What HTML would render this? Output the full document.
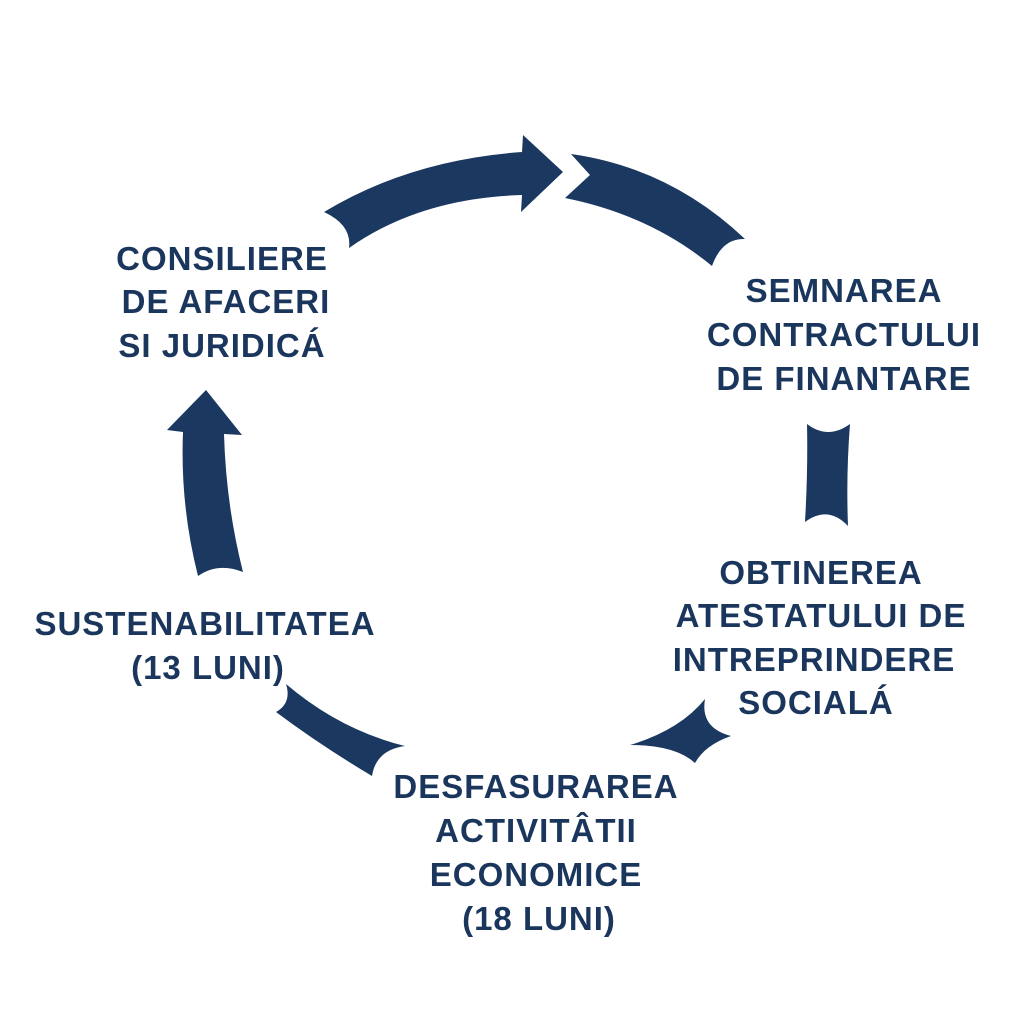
<!DOCTYPE html>
<html><head><meta charset="utf-8"><style>
html,body{margin:0;padding:0;background:#fff;}
svg{display:block}
text{font-family:"Liberation Sans",sans-serif;font-weight:bold;fill:#1b365d;font-size:33px;letter-spacing:1px;text-anchor:middle}
</style></head><body>
<svg width="1024" height="1024" viewBox="0 0 1024 1024">
<g fill="#1a3860">
<path d="M324,212 Q410,160 522,152 L523,135 L563,172 L521,212 L522,195 Q420,198 349,248 Q352,225 324,212 Z"/>
<path d="M571,154 Q670,168 745,239 Q722,238 712,266 Q650,215 565,198 L590,175 Z"/>
<path d="M807,424 Q828,440 850,424 Q846,475 848,526 Q828,505 805,522 Q808,470 807,424 Z"/>
<path d="M705,699 Q700,728 731,736 Q705,745 695,763 Q675,745 630,745 Q680,730 705,699 Z"/>
<path d="M286,684 Q340,730 405,746 Q376,750 372,776 Q320,745 276,712 Q292,703 286,684 Z"/>
<path d="M206,390 L242,435 L224,434 Q226,505 243,572 Q218,562 198,576 Q180,505 183,432 L167,430 Z"/>
</g>
<text x="222" y="270">CONSILIERE</text>
<text x="226" y="313">DE AFACERI</text>
<text x="222" y="357">SI JURIDICÁ</text>
<text x="844" y="302">SEMNAREA</text>
<text x="844" y="346">CONTRACTULUI</text>
<text x="844" y="390">DE FINANTARE</text>
<text x="821" y="584">OBTINEREA</text>
<text x="821" y="627">ATESTATULUI DE</text>
<text x="814" y="671">INTREPRINDERE</text>
<text x="816" y="714">SOCIALÁ</text>
<text x="205" y="635">SUSTENABILITATEA</text>
<text x="208" y="679">(13 LUNI)</text>
<text x="536" y="798">DESFASURAREA</text>
<text x="536" y="842">ACTIVITÂTII</text>
<text x="536" y="886">ECONOMICE</text>
<text x="539" y="930">(18 LUNI)</text>
</svg>
</body></html>
